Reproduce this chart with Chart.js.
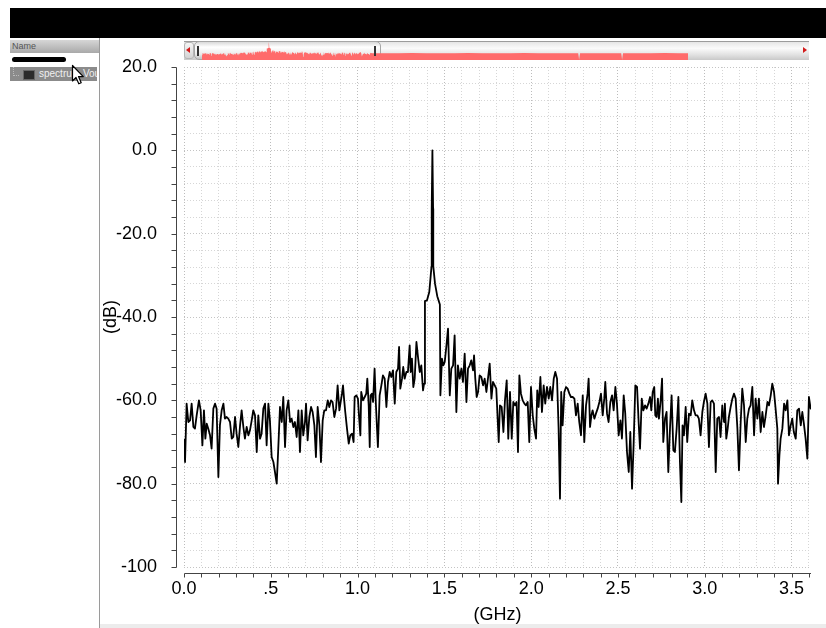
<!DOCTYPE html>
<html>
<head>
<meta charset="utf-8">
<script src="https://cdn.jsdelivr.net/npm/chart.js@4.4.1/dist/chart.umd.min.js"></script>
<style>
  html, body { margin: 0; padding: 0; background: #fff; }
  body { width: 826px; height: 628px; position: relative; overflow: hidden;
         font-family: "Liberation Sans", Arial, sans-serif; }
  .abs { position: absolute; }
  #topbar { left: 10px; top: 8px; width: 816px; height: 30px; background: #000; }
  #panel { left: 10px; top: 38px; width: 89px; height: 590px; border-right: 1px solid #9a9a9a; background: #fff; }
  #nameHead { left: 10px; top: 40px; width: 89px; height: 13px;
              background: linear-gradient(#d6d6d6, #a9a9a9); color: #555; font-size: 9px; line-height: 13px; }
  #nameHead span { padding-left: 2px; }
  #blackBar { left: 12px; top: 57px; width: 54px; height: 5px; background: #000; border-radius: 3px; }
  #row { left: 10px; top: 67px; width: 87px; height: 14px; background: #8b8b8b; overflow: hidden; }
  #row .tree { position: absolute; left: 3px; top: 0; width: 5px; height: 8px;
               border-left: 1px dotted #bbb; border-bottom: 1px dotted #bbb; }
  #row .swatch { position: absolute; left: 13px; top: 3px; width: 10px; height: 8px; background: #2b2b2b; border: 1px solid #666; }
  #row .label { position: absolute; left: 29px; top: 0; font-size: 10px; line-height: 14px; color: #f0f0f0; white-space: nowrap; }
  #cursor { left: 71px; top: 64px; }
  #track { left: 184px; top: 41px; width: 625px; height: 18px; border-top: 1px solid #9c9c9c;
           background: linear-gradient(#e6e6e6, #fbfbfb 35%, #e2e2e2 70%, #c9c9c9); }
  #leftBtn { left: 184px; top: 42px; width: 10px; height: 17px; border-radius: 3px;
             background: linear-gradient(#f5f5f5, #d3d3d3); border: 1px solid #b5b5b5; box-sizing: border-box; }
  #thumb { left: 194px; top: 41px; width: 187px; height: 19px; border-radius: 5px; box-sizing: border-box;
           border: 1px solid #a6a6a6; background: linear-gradient(#d9d9d9, #ffffff 30%, #ececec 70%, #c2c2c2); }
  .grip { position: absolute; top: 46px; width: 2px; height: 10px; background: #333; }
  .tri { position: absolute; width: 0; height: 0; border-top: 3px solid transparent; border-bottom: 3px solid transparent; }
  #triL { left: 186px; top: 47px; border-right: 4px solid #d21a1a; }
  #triR { left: 803px; top: 47px; border-left: 4px solid #d21a1a; }
  #overview { left: 202px; top: 42px; }
  #main { left: 100px; top: 38px; }
  #bottomBand { left: 100px; top: 624px; width: 726px; height: 4px; background: #ececec; }
</style>
</head>
<body>
<div id="topbar" class="abs"></div>
<div id="panel" class="abs"></div>
<div id="nameHead" class="abs"><span>Name</span></div>
<div id="blackBar" class="abs"></div>
<div id="row" class="abs"><div class="tree"></div><div class="swatch"></div><div class="label">spectrum Vout</div></div>
<svg id="cursor" class="abs" width="14" height="22" viewBox="0 0 14 22">
  <path d="M1.5 1.5 L1.5 17 L5 13.5 L7.8 19.8 L10.2 18.8 L7.5 12.6 L12.3 12.6 Z" fill="#fff" stroke="#000" stroke-width="1.2" stroke-linejoin="round"/>
</svg>

<div id="track" class="abs"></div>
<div id="leftBtn" class="abs"></div>
<div id="thumb" class="abs"></div>
<canvas id="overview" class="abs" width="486" height="18"></canvas>
<div class="grip" style="left:197px"></div>
<div class="grip" style="left:374px"></div>
<div id="triL" class="tri"></div>
<div id="triR" class="tri"></div>

<canvas id="main" class="abs" width="726" height="590"></canvas>
<div id="bottomBand" class="abs"></div>

<script>
// spectrum of Vout, frequency in GHz, level in dB
const freqGHz = [
  0.000, 0.006, 0.015, 0.025, 0.035, 0.044, 0.054, 0.063, 0.073, 0.086,
  0.096, 0.106, 0.115, 0.123, 0.131, 0.140, 0.150, 0.159, 0.169, 0.179,
  0.188, 0.198, 0.207, 0.217, 0.227, 0.236, 0.246, 0.255, 0.265, 0.275,
  0.284, 0.294, 0.303, 0.313, 0.323, 0.332, 0.342, 0.351, 0.361, 0.371,
  0.380, 0.390, 0.399, 0.409, 0.419, 0.428, 0.438, 0.447, 0.457, 0.467,
  0.476, 0.486, 0.495, 0.505, 0.515, 0.524, 0.534, 0.543, 0.553, 0.563,
  0.572, 0.582, 0.591, 0.601, 0.611, 0.620, 0.630, 0.639, 0.649, 0.659,
  0.668, 0.678, 0.687, 0.697, 0.703, 0.712, 0.722, 0.732, 0.741, 0.751,
  0.760, 0.770, 0.780, 0.789, 0.799, 0.808, 0.818, 0.828, 0.837, 0.847,
  0.856, 0.866, 0.876, 0.885, 0.895,
  0.910, 0.916, 0.922, 0.929, 0.939, 0.949, 0.958, 0.968, 0.977, 0.983,
  0.993, 1.002, 1.008, 1.016, 1.021, 1.031, 1.041, 1.050, 1.056, 1.064,
  1.070, 1.075, 1.083, 1.089, 1.098, 1.104, 1.112, 1.117, 1.127, 1.137,
  1.146, 1.156, 1.166, 1.175, 1.185, 1.194, 1.204, 1.214, 1.223, 1.233,
  1.239, 1.246, 1.256, 1.263, 1.271, 1.281, 1.290, 1.300, 1.306, 1.313,
  1.321, 1.329, 1.339, 1.348, 1.358, 1.367, 1.377, 1.383,
  1.388, 1.400, 1.413, 1.421, 1.426, 1.427, 1.431, 1.435, 1.436, 1.446,
  1.459, 1.474, 1.477,
  1.486, 1.494, 1.502, 1.511, 1.521, 1.531, 1.540, 1.550, 1.559, 1.569,
  1.578, 1.588, 1.598, 1.607, 1.617, 1.627, 1.636, 1.646, 1.655, 1.665,
  1.671, 1.678, 1.686, 1.694, 1.703, 1.713, 1.723, 1.732, 1.742, 1.751,
  1.761, 1.771, 1.780, 1.790, 1.799,
  1.813, 1.820, 1.830, 1.840, 1.849, 1.859, 1.868, 1.878, 1.888, 1.897,
  1.907, 1.916, 1.924, 1.932, 1.941, 1.951, 1.961, 1.970, 1.980, 1.989,
  1.999, 2.009, 2.018, 2.028, 2.035, 2.043, 2.053, 2.062, 2.072, 2.081,
  2.091, 2.101, 2.110, 2.120, 2.130, 2.139, 2.149, 2.158, 2.166, 2.173,
  2.181, 2.191, 2.201, 2.210, 2.220, 2.229, 2.239, 2.249, 2.258, 2.268,
  2.277, 2.287, 2.297, 2.306, 2.316, 2.325, 2.331, 2.339, 2.347, 2.354,
  2.364, 2.373, 2.383, 2.393, 2.402, 2.412, 2.421, 2.427, 2.437, 2.446,
  2.456, 2.466, 2.475, 2.485, 2.494, 2.504, 2.514, 2.523, 2.533, 2.542,
  2.552, 2.562, 2.571, 2.581, 2.590, 2.600, 2.610, 2.619, 2.627, 2.637,
  2.646, 2.656, 2.665, 2.675, 2.685, 2.692, 2.700, 2.709, 2.715,
  2.723, 2.730, 2.736, 2.746, 2.754, 2.761, 2.771, 2.780, 2.790, 2.800,
  2.809, 2.819, 2.828, 2.838, 2.848, 2.857, 2.865, 2.872, 2.880, 2.890,
  2.899, 2.909, 2.919, 2.928, 2.938, 2.947, 2.957, 2.966, 2.976, 2.986,
  2.995, 3.005, 3.015, 3.024, 3.034, 3.043, 3.053, 3.063, 3.072, 3.082,
  3.091, 3.101, 3.111, 3.116, 3.124, 3.132, 3.139, 3.149, 3.159, 3.168,
  3.178, 3.188, 3.197, 3.207, 3.216, 3.226, 3.236, 3.245, 3.255, 3.264,
  3.274, 3.284, 3.293, 3.303, 3.312, 3.322, 3.332, 3.341, 3.351, 3.361,
  3.370, 3.380, 3.389, 3.399, 3.408, 3.418, 3.422, 3.430, 3.437, 3.447,
  3.457, 3.466, 3.476, 3.485, 3.495, 3.504, 3.513, 3.524, 3.533, 3.543,
  3.553, 3.562, 3.571, 3.581, 3.591, 3.600, 3.610, 3.613
];

const levelDb = [
  -69.2, -74.8, -60.8, -65.2, -64.8, -60.8, -66.4, -66.8, -63.6, -60.0,
  -62.4, -70.8, -62.4, -69.2, -65.6, -66.8, -68.4, -71.6, -62.0, -60.8,
  -62.0, -78.4, -66.0, -62.4, -60.8, -64.4, -64.0, -64.4, -65.2, -69.2,
  -68.8, -64.0, -68.0, -71.2, -66.0, -62.4, -66.4, -69.2, -66.4, -68.4,
  -67.2, -64.8, -62.4, -63.6, -72.4, -63.6, -69.2, -68.0, -62.0, -60.8,
  -70.8, -60.8, -64.8, -73.6, -74.8, -77.2, -80.0, -71.6, -61.6, -65.2,
  -59.2, -71.2, -62.4, -60.0, -65.2, -64.4, -66.4, -65.2, -68.8, -62.4,
  -72.4, -62.4, -68.4, -65.2, -60.8, -69.6, -64.0, -61.6, -62.8, -66.0,
  -73.6, -61.6, -66.0, -74.8, -64.8, -62.4, -62.4, -60.0, -61.6, -60.0,
  -60.4, -64.0, -62.0, -56.4, -62.4,
  -58.4, -56.4, -59.6, -62.8, -66.8, -70.4, -68.4, -68.0, -70.0, -59.2,
  -58.8, -59.6, -63.6, -68.4, -58.0, -60.0, -59.2, -58.4, -54.8, -61.2,
  -71.2, -58.8, -58.4, -60.4, -52.4, -59.6, -66.8, -71.2, -58.8, -56.4,
  -54.0, -54.8, -61.6, -55.6, -53.2, -54.4, -52.8, -60.8, -53.2, -52.4,
  -47.2, -57.2, -54.8, -52.0, -54.8, -53.2, -53.2, -46.8, -53.2, -50.0,
  -56.8, -54.8, -46.0, -49.6, -53.2, -51.6, -57.6, -56.0,
  -36.2, -36.0, -34.0, -30.2, -27.8, -14.0, 0.0, -14.0, -27.8, -32.0,
  -35.0, -37.0, -58.8,
  -50.0, -51.6, -50.8, -47.2, -42.8, -58.8, -52.4, -51.6, -44.4, -62.8,
  -51.6, -54.8, -52.4, -55.6, -48.8, -60.4, -52.4, -51.6, -50.4, -52.8,
  -49.2, -54.8, -59.2, -58.0, -54.0, -54.4, -56.4, -54.8, -58.0, -54.8,
  -51.2, -59.6, -55.6, -56.4, -57.2,
  -70.0, -61.2, -61.6, -67.6, -60.0, -55.2, -69.2, -58.0, -69.2, -60.4,
  -61.2, -60.4, -72.4, -54.0, -58.4, -60.0, -60.8, -61.2, -60.4, -70.0,
  -56.8, -63.6, -66.8, -69.2, -57.6, -61.6, -54.4, -62.8, -56.4, -60.8,
  -56.8, -59.6, -56.8, -60.0, -54.8, -53.2, -54.8, -66.8, -83.6, -58.0,
  -66.0, -58.0, -56.8, -57.2, -58.4, -59.2, -59.2, -59.6, -63.6, -60.8,
  -65.2, -68.4, -58.8, -70.0, -61.2, -58.4, -54.8, -66.4, -63.6, -62.4,
  -64.4, -63.2, -62.0, -60.4, -58.4, -63.6, -59.6, -55.6, -63.2, -65.2,
  -60.4, -58.8, -62.4, -56.8, -60.8, -68.4, -64.8, -69.2, -58.8, -63.2,
  -72.4, -77.2, -67.6, -81.2, -70.8, -56.4, -56.8, -65.2, -71.6, -59.6,
  -62.4, -61.2, -62.0, -60.8, -59.2, -62.4, -58.0, -56.8, -63.6,
  -64.0, -59.6, -64.4, -60.0, -54.8, -70.0, -64.4, -62.8, -77.2, -66.4,
  -58.8, -72.0, -72.4, -66.8, -59.2, -74.8, -84.4, -66.0, -68.4, -61.6,
  -70.0, -63.2, -63.6, -60.0, -62.4, -63.6, -63.6, -64.4, -68.4, -62.8,
  -60.4, -58.4, -60.8, -71.2, -60.4, -60.0, -60.8, -77.2, -64.4, -64.0,
  -68.8, -61.2, -65.2, -60.8, -69.2, -66.8, -64.0, -61.6, -59.6, -58.4,
  -59.6, -66.8, -76.8, -65.2, -57.2, -61.2, -70.0, -64.4, -62.0, -61.2,
  -56.8, -68.4, -59.6, -64.4, -59.6, -67.6, -62.8, -66.4, -63.6, -60.4,
  -61.2, -58.8, -56.0, -58.0, -62.0, -66.8, -80.0, -73.2, -69.2, -66.8,
  -60.8, -62.4, -60.0, -68.4, -66.0, -64.4, -67.6, -69.2, -62.4, -62.0,
  -66.0, -62.8, -65.6, -69.2, -74.0, -59.2, -62.0, -61.6
];

// rest of the spectrum, only seen in the overview strip of the scroll bar
const overviewTailGHz = [3.65, 3.9, 4.2, 4.5, 4.8, 5.1, 5.4, 5.7, 6.0, 6.3, 6.6, 6.9, 7.2, 7.5, 7.8,
                         8.05, 8.07, 8.09, 8.4, 8.7, 8.97, 8.99, 9.01, 9.3, 9.6, 9.9, 10.2, 10.4];
const overviewTailDb = [-62, -63, -62, -61, -63, -62, -62, -61, -62, -63, -62, -61, -62, -63, -62,
                        -62, -100, -62, -62, -63, -62, -100, -62, -63, -62, -61, -62, -62];

// axis labels
const xLabelValues = [0, 0.5, 1.0, 1.5, 2.0, 2.5, 3.0, 3.5];
const xLabelTexts = ['0.0', '.5', '1.0', '1.5', '2.0', '2.5', '3.0', '3.5'];
const yLabelValues = [20, 0, -20, -40, -60, -80, -100];
const yLabelTexts = ['20.0', '0.0', '-20.0', '-40.0', '-60.0', '-80.0', '-100'];

const FONT = '"Liberation Sans", Arial, sans-serif';

function labelFor(values, texts, v) {
    const i = values.findIndex(function (m) { return Math.abs(m - v) < 1e-6; });
    return i < 0 ? '' : texts[i];
}

// the viewer draws its axes a few pixels away from the plot area
const detachedAxes = {
    id: 'detachedAxes',
    afterDraw(chart) {
        const ctx = chart.ctx;
        const a = chart.chartArea;
        const x = chart.scales.x;
        const y = chart.scales.y;
        ctx.save();
        ctx.strokeStyle = '#444';
        ctx.lineWidth = 1;
        ctx.beginPath();
        const yx = Math.round(a.left) - 7.5;
        ctx.moveTo(yx, Math.round(y.getPixelForValue(20)) + 0.5);
        ctx.lineTo(yx, Math.round(y.getPixelForValue(-100)) + 0.5);
        y.ticks.forEach(function (t) {
            const p = Math.round(y.getPixelForValue(t.value)) + 0.5;
            ctx.moveTo(yx - 5, p);
            ctx.lineTo(yx, p);
        });
        const xy = Math.round(a.bottom) + 6.5;
        ctx.moveTo(Math.round(x.getPixelForValue(0)) + 0.5, xy);
        ctx.lineTo(Math.round(a.right), xy);
        x.ticks.forEach(function (t) {
            const p = Math.round(x.getPixelForValue(t.value)) + 0.5;
            ctx.moveTo(p, xy);
            ctx.lineTo(p, xy + 4);
        });
        ctx.stroke();
        ctx.restore();
    }
};

const points = freqGHz.map(function (f, i) { return { x: f, y: levelDb[i] }; });

new Chart(document.getElementById('main'), {
    type: 'line',
    data: {
        datasets: [{
            data: points,
            borderColor: '#000',
            borderWidth: 1.8,
            borderJoinStyle: 'round',
            pointRadius: 0,
            tension: 0,
            fill: false
        }]
    },
    options: {
        responsive: false,
        animation: false,
        events: [],
        layout: { padding: { left: 0, top: 29, right: 15, bottom: 0 } },
        plugins: { legend: { display: false }, tooltip: { enabled: false } },
        scales: {
            x: {
                type: 'linear',
                min: 0,
                max: 3.612,
                afterFit: function (s) { s.height = 61; },
                border: { display: false, dash: [1, 2] },
                grid: {
                    drawTicks: false,
                    lineWidth: 1,
                    color: function (c) {
                        return labelFor(xLabelValues, xLabelTexts, c.tick.value) ? '#bcbcbc' : '#d6d6d6';
                    }
                },
                ticks: {
                    stepSize: 0.1,
                    includeBounds: false,
                    autoSkip: false,
                    maxRotation: 0,
                    padding: 11,
                    color: '#000',
                    font: { family: FONT, size: 18 },
                    callback: function (v) { return labelFor(xLabelValues, xLabelTexts, v); }
                },
                title: {
                    display: true,
                    text: '(GHz)',
                    color: '#000',
                    font: { family: FONT, size: 18 },
                    padding: { top: 0, bottom: 2 }
                }
            },
            y: {
                type: 'linear',
                min: -100,
                max: 20,
                afterFit: function (s) { s.width = 84; },
                border: { display: false, dash: [1, 2] },
                grid: {
                    drawTicks: true,
                    tickLength: 27,
                    tickColor: 'rgba(0,0,0,0)',
                    lineWidth: 1,
                    color: function (c) {
                        return labelFor(yLabelValues, yLabelTexts, c.tick.value) ? '#c4c4c4' : '#d6d6d6';
                    }
                },
                ticks: {
                    stepSize: 4,
                    autoSkip: false,
                    padding: 0,
                    color: '#000',
                    font: { family: FONT, size: 18 },
                    callback: function (v) { return labelFor(yLabelValues, yLabelTexts, v); }
                },
                title: {
                    display: true,
                    text: '(dB)',
                    color: '#000',
                    font: { family: FONT, size: 18 },
                    padding: { top: 0, bottom: 0 }
                }
            }
        }
    },
    plugins: [detachedAxes]
});

// red overview of the whole spectrum inside the scroll bar
const overviewPoints = points.concat(overviewTailGHz.map(function (f, i) {
    return { x: f, y: overviewTailDb[i] };
}));

new Chart(document.getElementById('overview'), {
    type: 'line',
    data: {
        datasets: [{
            data: overviewPoints,
            borderWidth: 0,
            pointRadius: 0,
            backgroundColor: '#ff6b6b',
            fill: 'start'
        }]
    },
    options: {
        responsive: false,
        animation: false,
        events: [],
        layout: { padding: 0 },
        plugins: { legend: { display: false }, tooltip: { enabled: false } },
        scales: {
            x: { type: 'linear', min: 0, max: 10.4, display: false },
            y: { min: -100, max: 0, display: false }
        }
    }
});
</script>
</body>
</html>
